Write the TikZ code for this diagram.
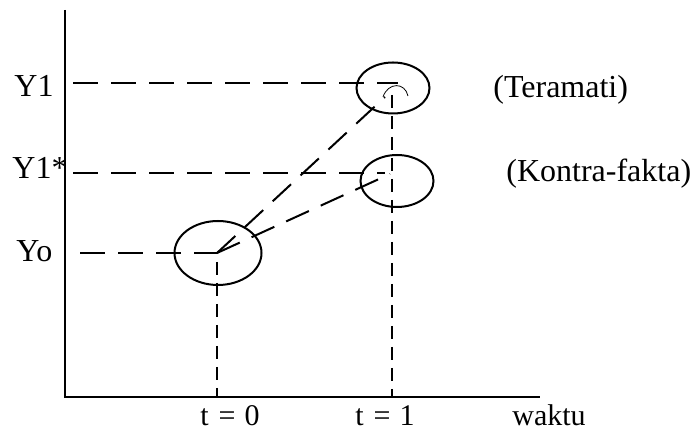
\documentclass[tikz,border=0pt]{standalone}
\usepackage{fontspec}
\setmainfont{Liberation Serif}
\usetikzlibrary{shapes.geometric}
\begin{document}
\begin{tikzpicture}[x=0.5pt,y=-0.5pt,font=\fontsize{16}{19}\selectfont,
  axis/.style={line width=1pt},
  hdash/.style={line width=1pt,dash pattern=on 12.5pt off 6.5pt},
  vdash/.style={line width=1pt,dash pattern=on 6.5pt off 4pt},
  blob/.style={draw,ellipse,line width=1pt,inner sep=0pt},
  lbl/.style={anchor=base west,inner sep=0pt},
  tick/.style={lbl,font=\fontsize{15}{18}\selectfont}]
  \useasboundingbox (0,0) rectangle (690,431);
  \coordinate (top) at (65,10);
  \coordinate (O) at (65,397);
  \coordinate (right) at (540,397);
  \draw[axis] (top) -- (O) -- (right);
  \coordinate (p0) at (217,253);
  \coordinate (y1) at (73,83);   \coordinate (e1) at (398,83);
  \coordinate (y1s) at (73,173); \coordinate (e2) at (385,173);
  \coordinate (y0) at (80,253);
  \coordinate (d1) at (385,97);  \coordinate (d2) at (390,174);
  \coordinate (v0) at (217,262); \coordinate (t0) at (217,397);
  \coordinate (v1) at (392,95);  \coordinate (t1) at (392,397);
  \node[blob,minimum width=43.5pt,minimum height=32pt] (c0) at (218,253) {};
  \node[blob,minimum width=36.5pt,minimum height=25.5pt] (c1) at (393,88) {};
  \node[blob,minimum width=36.5pt,minimum height=26pt] (c2) at (397,181) {};
  \draw[hdash] (y1) -- (e1);
  \draw[hdash] (y1s) -- (e2);
  \draw[hdash] (y0) -- (p0);
  \draw[hdash] (p0) -- (d1);
  \draw[hdash] (p0) -- (d2);
  \draw[vdash] (v0) -- (t0);
  \draw[vdash] (v1) -- (t1);
  \draw[line width=0.4pt] (383,97) .. controls (388,82) and (405,82) .. (408,96);
  \node[lbl] (ly1) at (14,97) {Y1};
  \node[lbl] (ly1s) at (12,179) {Y1*};
  \node[lbl] (ly0) at (16,262) {Yo};
  \node[lbl] (lobs) at (493,98) {(Teramati)};
  \node[lbl] (lcf) at (506,182) {(Kontra-fakta)};
  \node[tick] (lt0) at (200,426) {t\hspace{5pt}=\hspace{4.5pt}0};
  \node[tick] (lt1) at (355,426) {t\hspace{5pt}=\hspace{4.5pt}1};
  \node[tick] (lw) at (512,426) {waktu};
\end{tikzpicture}
\end{document}
